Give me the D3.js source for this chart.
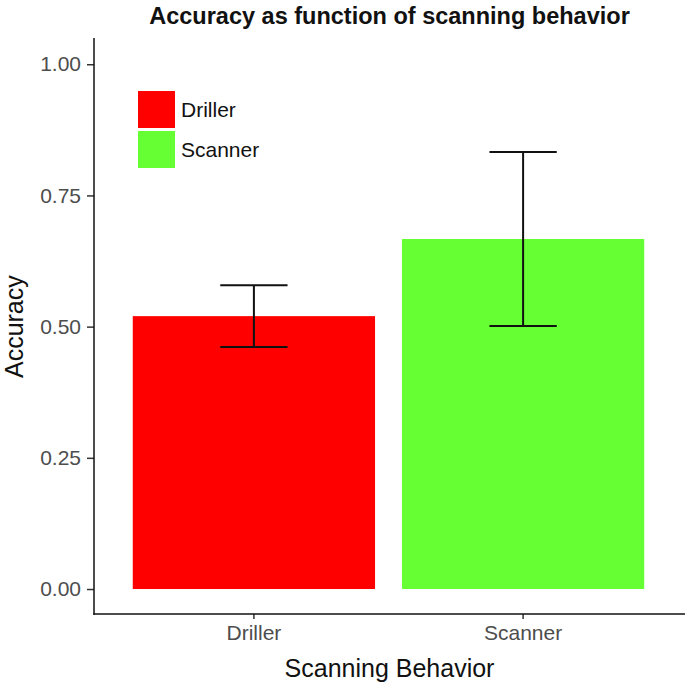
<!DOCTYPE html>
<html>
<head>
<meta charset="utf-8">
<script src="https://cdnjs.cloudflare.com/ajax/libs/d3/7.8.5/d3.min.js"></script>
<style>
	body { margin: 0; background: #fff; }
	text { font-family: "Liberation Sans", Arial, sans-serif; }
</style>
</head>
<body>
<div id="stage"></div>
<script>
// data
var categories = ['Driller', 'Scanner'];
var accuracy = [0.52, 0.667];
var errLow = [0.461, 0.501];
var errHigh = [0.579, 0.833];
var yTicks = [0, 0.25, 0.5, 0.75, 1];
var colors = ['#FF0000', '#66FF33'];

var width = 685, height = 686;
var margin = {top: 38, right: 0, bottom: 72, left: 94};

var svg = d3.select('#stage').append('svg')
	.attr('width', width)
	.attr('height', height);

var x = d3.scaleBand()
	.domain(categories)
	.range([margin.left, 683])
	.paddingInner(0.1)
	.paddingOuter(0.144);

// 0 -> 589, 1 -> 64, panel runs from 614 up to 38
var y = d3.scaleLinear()
	.domain([-0.0476, 1.05])
	.range([height - margin.bottom, margin.top]);

// bars
svg.selectAll('rect.bar')
	.data(categories)
	.enter()
	.append('rect')
	.attr('class', 'bar')
	.attr('x', function(d) { return x(d); })
	.attr('width', x.bandwidth())
	.attr('y', function(d, i) { return y(accuracy[i]); })
	.attr('height', function(d, i) { return y(0) - y(accuracy[i]); })
	.attr('fill', function(d, i) { return colors[i]; });

// error bars
var whisker = x.step() * 0.25;
var err = svg.selectAll('g.err')
	.data(categories)
	.enter()
	.append('g')
	.attr('class', 'err')
	.attr('stroke', '#111')
	.attr('stroke-width', 2);

err.append('line')
	.attr('x1', function(d) { return x(d) + x.bandwidth()/2; })
	.attr('x2', function(d) { return x(d) + x.bandwidth()/2; })
	.attr('y1', function(d, i) { return y(errLow[i]); })
	.attr('y2', function(d, i) { return y(errHigh[i]); });

err.append('line')
	.attr('x1', function(d) { return x(d) + x.bandwidth()/2 - whisker/2; })
	.attr('x2', function(d) { return x(d) + x.bandwidth()/2 + whisker/2; })
	.attr('y1', function(d, i) { return y(errHigh[i]); })
	.attr('y2', function(d, i) { return y(errHigh[i]); });

err.append('line')
	.attr('x1', function(d) { return x(d) + x.bandwidth()/2 - whisker/2; })
	.attr('x2', function(d) { return x(d) + x.bandwidth()/2 + whisker/2; })
	.attr('y1', function(d, i) { return y(errLow[i]); })
	.attr('y2', function(d, i) { return y(errLow[i]); });

// axes
var yAxis = svg.append('g')
	.attr('transform', 'translate(' + margin.left + ',0)')
	.call(d3.axisLeft(y).tickValues(yTicks).tickFormat(d3.format('.2f')).tickSize(7).tickPadding(6));
yAxis.select('.domain').remove();
yAxis.selectAll('.tick line').attr('stroke', '#333').attr('stroke-width', 1.5);
yAxis.selectAll('.tick text').attr('fill', '#4D4D4D').style('font-size', '21px');

var xAxis = svg.append('g')
	.attr('transform', 'translate(0,' + (height - margin.bottom) + ')')
	.call(d3.axisBottom(x).tickSize(5).tickPadding(6));
xAxis.select('.domain').remove();
xAxis.selectAll('.tick line').attr('stroke', '#333').attr('stroke-width', 1.5);
xAxis.selectAll('.tick text').attr('fill', '#4D4D4D').style('font-size', '21px');

// axis lines
svg.append('line')
	.attr('x1', margin.left).attr('x2', margin.left)
	.attr('y1', margin.top).attr('y2', height - margin.bottom + 0.75)
	.attr('stroke', '#111').attr('stroke-width', 1.5);
svg.append('line')
	.attr('x1', margin.left - 0.75).attr('x2', width)
	.attr('y1', height - margin.bottom).attr('y2', height - margin.bottom)
	.attr('stroke', '#111').attr('stroke-width', 1.5);

// titles
svg.append('text')
	.attr('x', (margin.left + width) / 2)
	.attr('y', 24)
	.attr('text-anchor', 'middle')
	.style('font-size', '23.5px')
	.style('font-weight', 'bold')
	.attr('fill', '#111')
	.text('Accuracy as function of scanning behavior');

svg.append('text')
	.attr('x', (margin.left + width) / 2)
	.attr('y', 677)
	.attr('text-anchor', 'middle')
	.style('font-size', '25px')
	.attr('fill', '#111')
	.text('Scanning Behavior');

svg.append('text')
	.attr('transform', 'translate(23,' + y(0.5) + ') rotate(-90)')
	.attr('text-anchor', 'middle')
	.style('font-size', '25px')
	.attr('fill', '#111')
	.text('Accuracy');

// legend
var legend = svg.selectAll('g.legend')
	.data(categories)
	.enter()
	.append('g')
	.attr('class', 'legend')
	.attr('transform', function(d, i) { return 'translate(138,' + (91 + i*40) + ')'; });

legend.append('rect')
	.attr('width', 37)
	.attr('height', 37)
	.attr('fill', function(d, i) { return colors[i]; });

legend.append('text')
	.attr('x', 43)
	.attr('y', 18.5)
	.attr('dy', '0.36em')
	.style('font-size', '21px')
	.attr('fill', '#111')
	.text(function(d) { return d; });
</script>
</body>
</html>
